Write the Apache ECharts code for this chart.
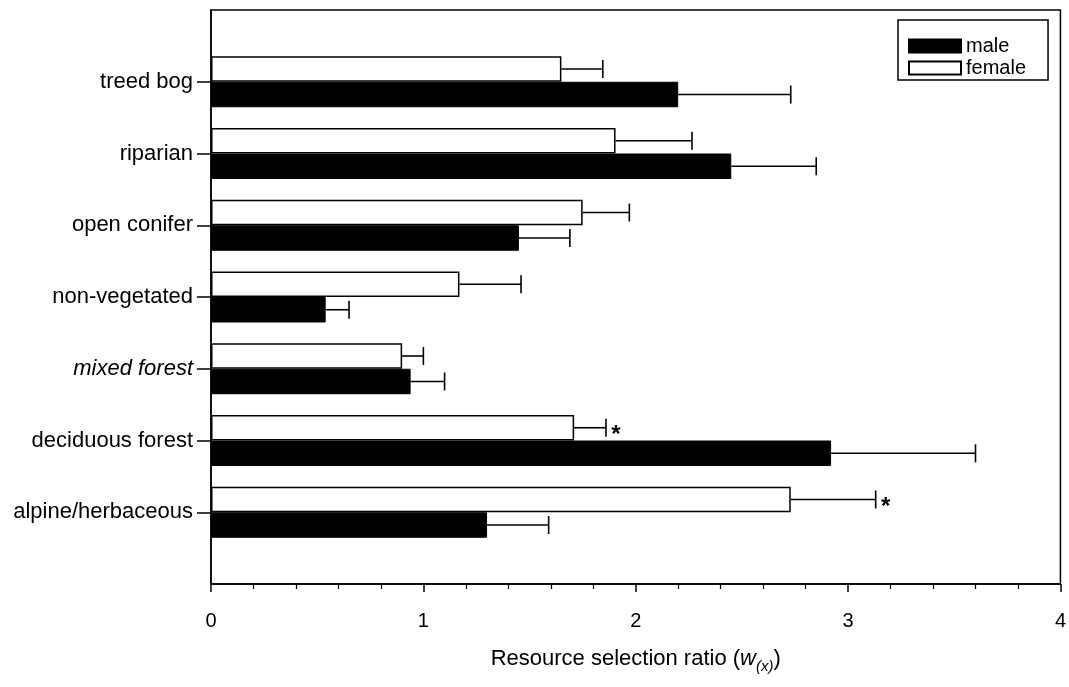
<!DOCTYPE html>
<html>
<head>
<meta charset="utf-8">
<script src="https://cdn.jsdelivr.net/npm/echarts@6/dist/echarts.min.js"></script>
<style>
  html, body { margin: 0; padding: 0; background: #fff; }
  #main { width: 1069px; height: 687px; }
</style>
</head>
<body>
<div id="main"></div>
<script>
// 类别（自下而上）
var categories = ['alpine/herbaceous', 'deciduous forest', 'mixed forest', 'non-vegetated', 'open conifer', 'riparian', 'treed bog'];
// 雄性均值及误差上限
var maleValues = [1.30, 2.92, 0.94, 0.54, 1.45, 2.45, 2.20];
var maleUpper = [1.59, 3.60, 1.10, 0.65, 1.69, 2.85, 2.73];
// 雌性均值及误差上限
var femaleValues = [2.73, 1.71, 0.90, 1.17, 1.75, 1.905, 1.65];
var femaleUpper = [3.13, 1.86, 1.00, 1.46, 1.97, 2.265, 1.845];
// 显著性标记
var femaleMarks = ['*', '*', '', '', '', '', ''];
var xTicks = [0, 1, 2, 3, 4];

var BAR_H = 25.5;
var FONT = 'Liberation Sans, Arial, sans-serif';

// 上下各空出一个位置
var yCats = [''].concat(categories, ['']);

var myChart = echarts.init(document.getElementById('main'));

function errData(vals, upper) {
    return vals.map(function (v, i) { return [i + 1, v, upper[i]]; });
}

function errRender(sign) {
    return function (params, api) {
        var cat = api.value(0);
        var s = api.coord([api.value(1), cat]);
        var e = api.coord([api.value(2), cat]);
        var y = s[1] + sign * BAR_H / 2;
        var st = { stroke: '#000', lineWidth: 1.6 };
        return {
            type: 'group',
            children: [
                { type: 'line', shape: { x1: s[0], y1: y, x2: e[0], y2: y }, style: st },
                { type: 'line', shape: { x1: e[0], y1: y - 9, x2: e[0], y2: y + 9 }, style: st }
            ]
        };
    };
}

var option = {
    animation: false,
    grid: {
        left: 211, right: 8, top: 10, bottom: 103,
        show: true, borderColor: '#000', borderWidth: 1.5, backgroundColor: 'transparent'
    },
    legend: {
        data: ['male', 'female'],
        orient: 'vertical',
        icon: 'rect',
        left: 898, top: 20,
        padding: [16, 22, 2, 10],
        itemWidth: 52, itemHeight: 13, itemGap: 2,
        borderColor: '#000', borderWidth: 1.5,
        textStyle: { fontFamily: FONT, fontSize: 20, color: '#000' }
    },
    xAxis: {
        type: 'value', min: 0, max: 4, interval: 1,
        axisLine: { show: true, lineStyle: { color: '#000', width: 1.5 } },
        axisTick: { show: true, length: 8, lineStyle: { color: '#000', width: 1.5 } },
        minorTick: { show: true, splitNumber: 5, length: 5, lineStyle: { color: '#000', width: 1.2 } },
        splitLine: { show: false },
        axisLabel: {
            fontFamily: FONT, fontSize: 20, color: '#000', margin: 27,
            formatter: function (v) { return xTicks.indexOf(v) >= 0 ? String(v) : ''; }
        },
        name: '{n|Resource selection ratio (}{w|w}{s|(x)}{n|)}',
        nameLocation: 'middle', nameGap: 60,
        nameTextStyle: {
            fontFamily: FONT, color: '#000',
            rich: {
                n: { fontFamily: FONT, fontSize: 22, color: '#000', lineHeight: 30, verticalAlign: 'middle' },
                w: { fontFamily: FONT, fontSize: 22, color: '#000', fontStyle: 'italic', lineHeight: 30, verticalAlign: 'middle' },
                s: { fontFamily: FONT, fontSize: 15, color: '#000', fontStyle: 'italic', lineHeight: 14, verticalAlign: 'bottom' }
            }
        }
    },
    yAxis: {
        type: 'category', data: yCats, boundaryGap: false,
        axisLine: { show: true, lineStyle: { color: '#000', width: 1.5 } },
        axisTick: {
            show: true, length: 14, lineStyle: { color: '#000', width: 1.5 },
            interval: function (i) { return i > 0 && i < yCats.length - 1; }
        },
        splitLine: { show: false },
        axisLabel: {
            fontFamily: FONT, fontSize: 22, color: '#000', margin: 18,
            formatter: function (v) { return v === 'mixed forest' ? '{i|' + v + '}' : v; },
            rich: { i: { fontFamily: FONT, fontSize: 22, color: '#000', fontStyle: 'italic' } }
        }
    },
    series: [
        {
            name: 'female', type: 'bar', barWidth: BAR_H, barGap: '0%',
            itemStyle: { color: '#fff', borderColor: '#000', borderWidth: 1.5 },
            data: [null].concat(femaleValues, [null])
        },
        {
            name: 'male', type: 'bar', barWidth: BAR_H, barGap: '0%',
            itemStyle: { color: '#000', borderColor: '#000', borderWidth: 1 },
            data: [null].concat(maleValues, [null])
        },
        {
            type: 'custom', name: 'maleErr', z: 5,
            encode: { x: [1, 2], y: 0 },
            renderItem: errRender(1),
            data: errData(maleValues, maleUpper)
        },
        {
            type: 'custom', name: 'femaleErr', z: 5,
            encode: { x: [1, 2], y: 0 },
            renderItem: function (params, api) {
                var g = errRender(-1)(params, api);
                var mark = femaleMarks[params.dataIndex];
                if (mark) {
                    var e = api.coord([api.value(2), api.value(0)]);
                    g.children.push({
                        type: 'text',
                        style: {
                            text: mark, x: e[0] + 10, y: e[1] - BAR_H / 2 + 8,
                            fill: '#000', font: 'bold 24px ' + FONT,
                            textAlign: 'center', textVerticalAlign: 'middle'
                        }
                    });
                }
                return g;
            },
            data: errData(femaleValues, femaleUpper)
        }
    ]
};

myChart.setOption(option);
</script>
</body>
</html>
